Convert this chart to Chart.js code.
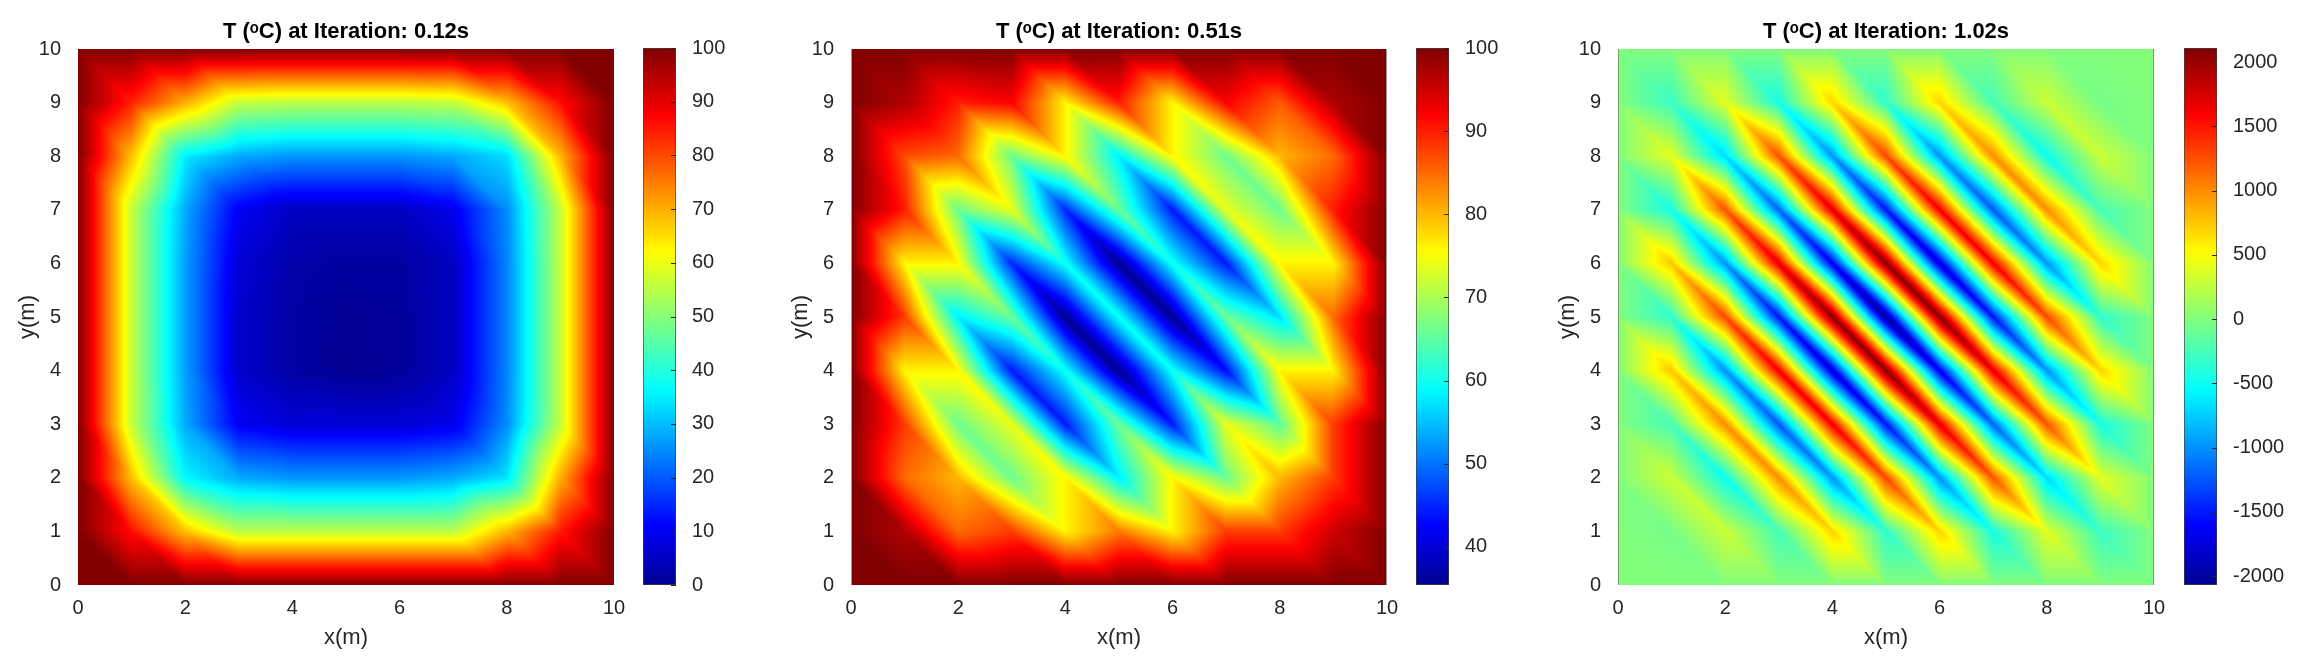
<!DOCTYPE html>
<html>
<head>
<meta charset="utf-8">
<title>Temperature fields</title>
<script src="https://cdn.jsdelivr.net/npm/chart.js@4"></script>
<style>
  html, body { margin: 0; background: #fff; width: 2299px; height: 656px; overflow: hidden; }
  canvas { position: absolute; top: 0; }
</style>
</head>
<body>
<canvas id="plot1"></canvas><canvas id="bar1"></canvas>
<canvas id="plot2"></canvas><canvas id="bar2"></canvas>
<canvas id="plot3"></canvas><canvas id="bar3"></canvas>
<script>
const xNodes = [0, 1, 2, 3, 4, 5, 6, 7, 8, 9, 10];
const yNodes = [10, 9, 8, 7, 6, 5, 4, 3, 2, 1, 0];   // rows below run top to bottom

const temp012 = [
  [100, 100, 100, 100, 100, 100, 100, 100, 100, 100, 100],
  [100, 84, 70, 56, 55, 55, 55, 56, 68, 86, 100],
  [100, 68, 35, 28, 26, 26, 26, 28, 33, 69, 100],
  [100, 56, 28, 10, 5, 5, 5, 9, 25, 56, 100],
  [100, 56, 27, 7, 2.5, 1.5, 1.5, 5, 24, 56, 100],
  [100, 56, 27, 6, 2, 0.5, 1, 5, 24, 56, 100],
  [100, 56, 27, 6, 2, 0, 1, 5, 24, 56, 100],
  [100, 56, 28, 10, 7, 7, 7, 9, 25, 56, 100],
  [100, 68, 36, 28, 26, 26, 26, 28, 34, 70, 100],
  [100, 86, 68, 55, 55, 55, 55, 55, 69, 85, 100],
  [100, 100, 100, 100, 100, 100, 100, 100, 100, 100, 100]
];

const temp051 = [
  [100, 100, 100, 100, 100, 100, 100, 100, 100, 100, 100],
  [100, 97, 90, 92, 76, 90, 76, 92, 86, 97, 100],
  [100, 87, 85, 66, 76, 58, 76, 66, 80, 85, 100],
  [100, 90, 66, 74, 45, 66, 44, 74, 66, 90, 100],
  [100, 76, 76, 45, 60, 35.5, 60, 44, 76, 76, 100],
  [100, 88, 58, 66, 35.5, 60, 35.5, 66, 57, 85, 100],
  [100, 76, 76, 44, 60, 35.5, 60, 43, 76, 76, 100],
  [100, 88, 66, 74, 44, 66, 44, 74, 65, 88, 100],
  [100, 85, 80, 66, 76, 58, 76, 66, 80, 88, 100],
  [100, 97, 85, 88, 76, 84, 76, 88, 88, 95, 100],
  [100, 100, 100, 100, 100, 100, 100, 100, 100, 100, 100]
];

const temp102 = [
  [0, 0, 0, 0, 0, 0, 0, 0, 0, 0, 0],
  [0, -300, 400, -450, 700, -350, 700, -250, 300, -50, 0],
  [0, 400, -700, 1250, -1000, 1300, -1000, 1000, -500, 300, 0],
  [0, -450, 1250, -1200, 1700, -1550, 1650, -1250, 1000, -250, 0],
  [0, 750, -1000, 1700, -1700, 2100, -1800, 1650, -1000, 700, 0],
  [0, -350, 1300, -1550, 2100, -2070, 2110, -1550, 1300, -350, 0],
  [0, 750, -1000, 1650, -1800, 2110, -1700, 1700, -1000, 700, 0],
  [0, -250, 1000, -1250, 1650, -1550, 1700, -1200, 1250, -450, 0],
  [0, 300, -500, 1000, -1000, 1300, -1000, 1250, -700, 400, 0],
  [0, -50, 300, -250, 700, -350, 700, -450, 400, -300, 0],
  [0, 0, 0, 0, 0, 0, 0, 0, 0, 0, 0]
];

const titles = ['T (ᵒC) at Iteration: 0.12s', 'T (ᵒC) at Iteration: 0.51s', 'T (ᵒC) at Iteration: 1.02s'];
const barRange1 = [0, 100];
const barRange2 = [35.4, 100];
const barRange3 = [-2070, 2110];
const barTicks1 = [0, 10, 20, 30, 40, 50, 60, 70, 80, 90, 100];
const barTicks2 = [40, 50, 60, 70, 80, 90, 100];
const barTicks3 = [-2000, -1500, -1000, -500, 0, 500, 1000, 1500, 2000];

const textColor = '#262626';
const fontName = '"Liberation Sans", Arial, sans-serif';
Chart.defaults.devicePixelRatio = 1;
Chart.defaults.animation = false;
Chart.defaults.responsive = false;
Chart.defaults.color = textColor;
Chart.defaults.font.family = fontName;

// jet colormap, t in 0..1
function jet(t) {
  const p = Math.max(0, Math.min(1, t)) * 63 / 64 + 1 / 64;
  const ramp = (a) => Math.max(0, Math.min(1, 1.5 - Math.abs(4 * p - a)));
  return [ramp(3) * 255, ramp(2) * 255, ramp(1) * 255];
}

// paints the triangulated mesh, one pixel at a time, through the chart's scales
const meshShading = {
  id: 'meshShading',
  beforeDatasetsDraw(chart, args, opts) {
    const { ctx, chartArea: a, scales } = chart;
    const pts = chart.data.datasets[0].data;
    const n = xNodes.length;
    const left = Math.round(a.left), top = Math.round(a.top);
    const w = Math.round(a.right) - left, h = Math.round(a.bottom) - top;
    const img = ctx.createImageData(w, h);
    const at = (i, j) => pts[(n - 1 - j) * n + i].v;
    for (let py = 0; py < h; py++) {
      const yv = scales.y.getValueForPixel(top + py + 0.5);
      const j = Math.min(n - 2, Math.max(0, Math.floor(yv)));
      const fy = yv - j;
      for (let px = 0; px < w; px++) {
        const xv = scales.x.getValueForPixel(left + px + 0.5);
        const i = Math.min(n - 2, Math.max(0, Math.floor(xv)));
        const fx = xv - i;
        const v00 = at(i, j), v10 = at(i + 1, j), v01 = at(i, j + 1), v11 = at(i + 1, j + 1);
        const v = fx + fy <= 1
          ? v00 + fx * (v10 - v00) + fy * (v01 - v00)
          : v11 + (1 - fx) * (v01 - v11) + (1 - fy) * (v10 - v11);
        const c = jet((v - opts.min) / (opts.max - opts.min));
        const k = (py * w + px) * 4;
        img.data[k] = c[0]; img.data[k + 1] = c[1]; img.data[k + 2] = c[2]; img.data[k + 3] = 255;
      }
    }
    ctx.putImageData(img, left, top);
    if (opts.edge) {
      // the axes box shows through as a thin gray line
      ctx.fillStyle = opts.edge;
      ctx.fillRect(left, top, 1, h);
      ctx.fillRect(left + w - 1, top, 1, h);
    }
  }
};

// short inward ticks on the colorbar
const innerTicks = {
  id: 'innerTicks',
  afterDatasetsDraw(chart) {
    const { ctx, scales: { y }, chartArea: a } = chart;
    ctx.save();
    ctx.strokeStyle = textColor;
    ctx.lineWidth = 1;
    y.ticks.forEach((t) => {
      const py = Math.round(y.getPixelForValue(t.value)) + 0.5;
      ctx.beginPath();
      ctx.moveTo(a.right - 5, py);
      ctx.lineTo(a.right, py);
      ctx.stroke();
    });
    ctx.restore();
  }
};

function drawPlot(id, left, title, rows, range, edge) {
  const canvas = document.getElementById(id);
  canvas.width = 78 + 536 + 24;
  canvas.height = 656;
  canvas.style.left = (left - 78) + 'px';
  const points = [];
  rows.forEach((row, r) => row.forEach((v, c) => points.push({ x: xNodes[c], y: yNodes[r], v })));
  const labelFont = { size: 22 };
  new Chart(canvas, {
    type: 'scatter',
    data: { datasets: [{ data: points, pointRadius: 0, showLine: false }] },
    options: {
      layout: { padding: { right: 24 } },
      plugins: {
        legend: { display: false },
        tooltip: { enabled: false },
        title: {
          display: true, text: title, fullSize: false, color: '#000',
          font: { size: 22, weight: 'bold', lineHeight: 1.2 },
          padding: { top: 19, bottom: 3.6 }
        },
        meshShading: { min: range[0], max: range[1], edge }
      },
      scales: {
        x: {
          type: 'linear', min: 0, max: 10,
          grid: { display: false }, border: { display: false },
          ticks: { stepSize: 2, font: { size: 20 }, padding: 3, maxRotation: 0 },
          title: { display: true, text: 'x(m)', font: labelFont, padding: { top: 0, bottom: 5 } },
          afterFit: (s) => { s.height = 71; }
        },
        y: {
          type: 'linear', min: 0, max: 10,
          grid: { display: false }, border: { display: false },
          ticks: { stepSize: 1, font: { size: 20 }, padding: 9 },
          title: { display: true, text: 'y(m)', font: labelFont, padding: { top: 15, bottom: 0 } },
          afterFit: (s) => { s.width = 78; }
        }
      }
    },
    plugins: [meshShading]
  });
}

function drawBar(id, left, range, tickList) {
  const canvas = document.getElementById(id);
  canvas.width = 115;
  canvas.height = 656;
  canvas.style.left = (left - 1) + 'px';
  new Chart(canvas, {
    type: 'bar',
    data: {
      labels: [''],
      datasets: [{
        data: [range],
        barPercentage: 1,
        categoryPercentage: 1,
        borderSkipped: false,
        borderWidth: 1,
        borderColor: '#404040',
        backgroundColor(c) {
          const { chart } = c;
          if (!chart.chartArea) return '#fff';
          const y = chart.scales.y;
          const y0 = y.getPixelForValue(range[0]), y1 = y.getPixelForValue(range[1]);
          const g = chart.ctx.createLinearGradient(0, y0, 0, y1);
          for (let i = 0; i <= 64; i++) {
            g.addColorStop(i / 64, 'rgb(' + jet(i / 64).join(',') + ')');
          }
          return g;
        }
      }]
    },
    options: {
      layout: { padding: { left: 1, top: 48, bottom: 71 } },
      plugins: { legend: { display: false }, tooltip: { enabled: false } },
      scales: {
        x: { display: false },
        y: {
          position: 'right', min: range[0], max: range[1],
          grid: { display: false }, border: { display: false },
          ticks: { font: { size: 20 }, padding: 8, callback: (v) => String(v) },
          afterBuildTicks: (s) => { s.ticks = tickList.map((value) => ({ value })); },
          afterFit: (s) => { s.width = 115 - 1 - 33; }
        }
      }
    },
    plugins: [innerTicks]
  });
}

drawPlot('plot1', 78, titles[0], temp012, barRange1, null);
drawBar('bar1', 643, barRange1, barTicks1);
drawPlot('plot2', 851, titles[1], temp051, barRange2, '#9a9a9a');
drawBar('bar2', 1416, barRange2, barTicks2);
drawPlot('plot3', 1618, titles[2], temp102, barRange3, '#6f9a60');
drawBar('bar3', 2184, barRange3, barTicks3);
</script>
</body>
</html>
